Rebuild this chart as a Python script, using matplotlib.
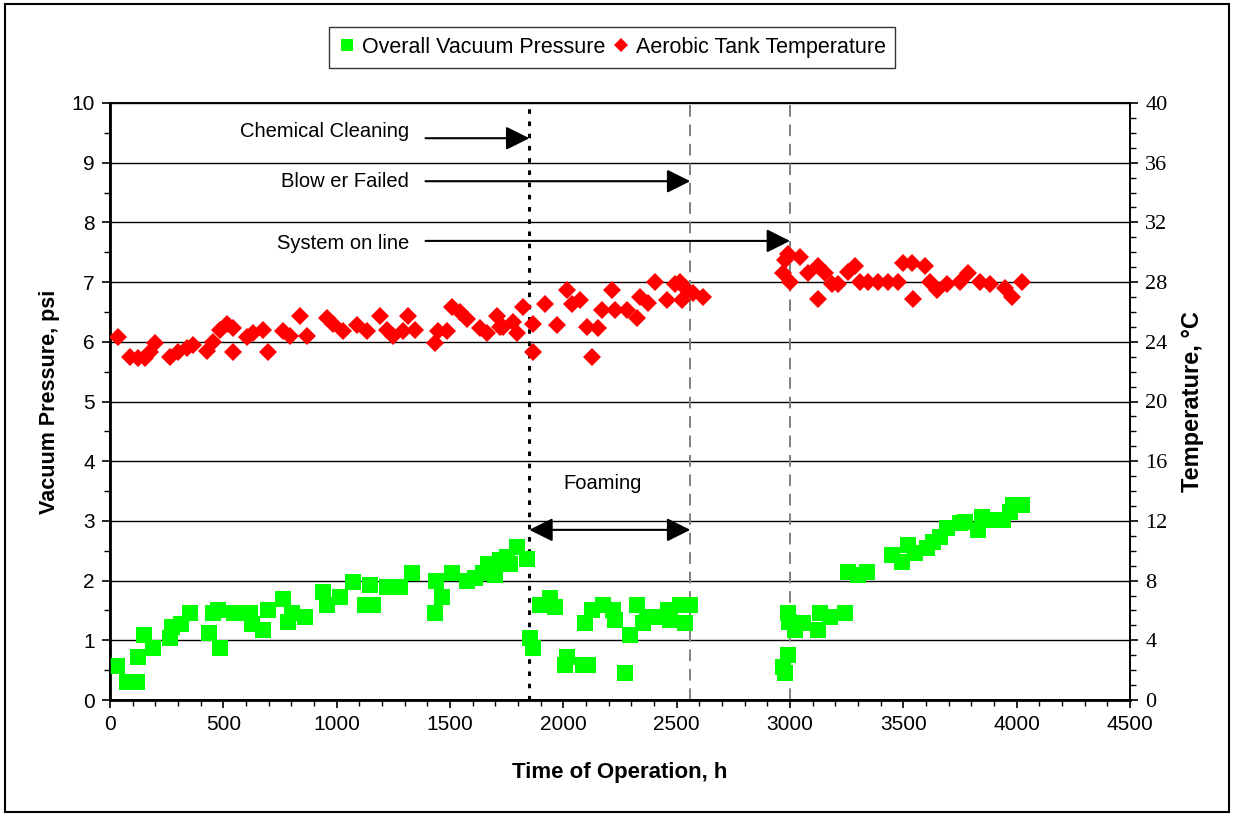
import matplotlib as mpl
mpl.use('agg')
import matplotlib.pyplot as plt
from matplotlib.patches import Rectangle
from matplotlib.ticker import MultipleLocator

plt.rcParams['font.family'] = ['Liberation Sans', 'DejaVu Sans']

# vacuum pressure (psi) vs time (h)
vac_h = [30, 75, 120, 124, 150, 190, 265, 272, 315, 355, 435, 455, 478, 485, 545,
         618, 625, 675, 697, 765, 785, 805, 860, 940, 957, 1015, 1072, 1125, 1147,
         1160, 1222, 1280, 1332, 1434, 1440, 1465, 1509, 1575, 1610, 1646, 1668,
         1700, 1720, 1751, 1765, 1795, 1839, 1853, 1866, 1897, 1941, 1963, 2007,
         2016, 2087, 2096, 2109, 2126, 2175, 2219, 2228, 2272, 2294, 2325, 2352,
         2369, 2413, 2462, 2471, 2515, 2537, 2559, 2970, 2978, 2991, 2991, 2995,
         3022, 3058, 3124, 3133, 3177, 3243, 3256, 3300, 3340, 3450, 3494, 3521,
         3552, 3605, 3631, 3662, 3692, 3750, 3772, 3829, 3847, 3891, 3940, 3971,
         3984, 4023]
vac_psi = [0.57, 0.3, 0.3, 0.72, 1.09, 0.87, 1.04, 1.23, 1.28, 1.45, 1.12, 1.45,
           1.5, 0.87, 1.45, 1.45, 1.28, 1.17, 1.5, 1.7, 1.3, 1.45, 1.39, 1.81,
           1.59, 1.73, 1.98, 1.59, 1.93, 1.59, 1.89, 1.89, 2.12, 1.45, 2.0, 1.73,
           2.12, 2.0, 2.05, 2.12, 2.28, 2.1, 2.35, 2.4, 2.28, 2.57, 2.37, 1.04,
           0.87, 1.59, 1.71, 1.56, 0.59, 0.72, 0.59, 1.29, 0.59, 1.51, 1.59, 1.51,
           1.34, 0.45, 1.09, 1.59, 1.29, 1.39, 1.39, 1.51, 1.34, 1.59, 1.29, 1.59,
           0.55, 0.45, 0.75, 1.45, 1.3, 1.17, 1.29, 1.17, 1.45, 1.39, 1.45, 2.14,
           2.09, 2.14, 2.43, 2.31, 2.6, 2.46, 2.55, 2.65, 2.73, 2.88, 2.96, 2.98,
           2.85, 3.07, 3.02, 3.02, 3.15, 3.27, 3.27]

# aerobic tank temperature (C) vs time (h)
temp_h = [36, 88, 124, 154, 176, 199, 265, 300, 340, 366, 428, 455, 485, 516, 543,
          543, 604, 631, 675, 697, 763, 794, 838, 869, 957, 984, 1028, 1090, 1134,
          1191, 1222, 1249, 1293, 1315, 1346, 1434, 1447, 1487, 1509, 1544, 1575,
          1632, 1663, 1707, 1721, 1734, 1778, 1795, 1822, 1866, 1866, 1919, 1972,
          2016, 2038, 2074, 2104, 2126, 2153, 2171, 2215, 2228, 2281, 2325, 2338,
          2374, 2404, 2457, 2493, 2515, 2524, 2546, 2572, 2616, 2970, 2978, 2991,
          3000, 3044, 3080, 3124, 3124, 3155, 3186, 3212, 3256, 3287, 3309, 3344,
          3389, 3433, 3477, 3499, 3538, 3543, 3596, 3618, 3649, 3692, 3750, 3785,
          3838, 3882, 3949, 3980, 4023]
temp_c = [24.3, 23.0, 22.9, 22.9, 23.3, 23.9, 23.0, 23.3, 23.6, 23.8, 23.4, 24.0,
          24.8, 25.2, 24.9, 23.3, 24.3, 24.6, 24.8, 23.3, 24.7, 24.4, 25.7, 24.4,
          25.6, 25.2, 24.7, 25.1, 24.7, 25.7, 24.8, 24.4, 24.7, 25.7, 24.8, 23.9,
          24.7, 24.7, 26.3, 26.0, 25.5, 24.9, 24.6, 25.7, 25.0, 25.0, 25.3, 24.6,
          26.3, 23.3, 25.2, 26.5, 25.1, 27.5, 26.5, 26.8, 25.0, 23.0, 24.9, 26.1,
          27.5, 26.1, 26.1, 25.6, 27.0, 26.6, 28.0, 26.8, 27.9, 28.0, 26.8, 27.5,
          27.3, 27.0, 28.6, 29.5, 29.9, 28.0, 29.7, 28.6, 29.1, 26.9, 28.6, 27.9,
          27.9, 28.7, 29.1, 28.0, 28.0, 28.0, 28.0, 28.0, 29.3, 29.3, 26.9, 29.1,
          28.0, 27.5, 27.9, 28.0, 28.6, 28.0, 27.9, 27.6, 27.0, 28.0]

temp_ticks = [0, 4, 8, 12, 16, 20, 24, 28, 32, 36, 40]

events_h = [1850, 2560, 3000]
event_labels = ['Chemical Cleaning', 'Blow er Failed', 'System on line']
event_text_y = [9.52, 8.68, 7.65]
event_arrow_y = [9.41, 8.69, 7.69]
arrow_start_h = 1392
text_end_h = 1320

fig = plt.figure(figsize=(12.33, 8.15), dpi=100)
fig.patches.append(Rectangle((5/1233, 3/815), 1224/1233, 808/815, transform=fig.transFigure,
                             fill=False, edgecolor='black', linewidth=1.5))

ax = fig.add_axes([110/1233, 115/815, 1020/1233, 597/815])
ax2 = ax.twinx()

ax.set_xlim(0, 4500)
ax.set_ylim(0, 10)
ax2.set_ylim(0, 40)
ax.xaxis.set_major_locator(MultipleLocator(500))
ax.xaxis.set_minor_locator(MultipleLocator(100))
ax.yaxis.set_major_locator(MultipleLocator(1))
ax.yaxis.set_minor_locator(MultipleLocator(0.5))
ax2.set_yticks(temp_ticks)
ax2.set_yticklabels([str(t) for t in temp_ticks], fontfamily='Liberation Serif', fontsize=16)
ax2.yaxis.set_minor_locator(MultipleLocator(1))

ax.grid(axis='y', which='major', color='black', linewidth=1)
ax.set_axisbelow(True)

for a in (ax, ax2):
    for s in a.spines.values():
        s.set_linewidth(1.2)
ax.spines['left'].set_linewidth(2)
ax.spines['bottom'].set_linewidth(2)

ax.tick_params(which='major', direction='out', length=6, width=1.2, labelsize=15, pad=5)
ax.tick_params(which='minor', direction='out', length=4, width=1)
ax2.tick_params(which='major', direction='out', length=6, width=1.2, pad=5)
ax2.tick_params(which='minor', direction='out', length=4, width=1)

# event lines
ax.axvline(events_h[0], color='black', linestyle=(0, (1.5, 2.5)), linewidth=2.2, zorder=1)
for xv in events_h[1:]:
    ax.axvline(xv, color='#808080', linestyle=(0, (6, 4)), linewidth=1.4, zorder=1)

ax.plot(vac_h, vac_psi, linestyle='none', marker='s', markersize=11, color='#00ff00',
        markeredgewidth=0, label='Overall Vacuum Pressure', zorder=3)
ax2.plot(temp_h, temp_c, linestyle='none', marker='D', markersize=9.5, color='#ff0000',
         markeredgewidth=0, label='Aerobic Tank Temperature', zorder=3)

for lab, ty, ay, xv in zip(event_labels, event_text_y, event_arrow_y, events_h):
    ax.text(text_end_h, ty, lab, ha='right', va='center', fontsize=14.5)
    ax.annotate('', xy=(xv, ay), xytext=(arrow_start_h, ay),
                arrowprops=dict(arrowstyle='-|>,head_length=0.9,head_width=0.45',
                                mutation_scale=16, color='black', lw=1.5,
                                shrinkA=0, shrinkB=0))

ax.annotate('', xy=(events_h[1], 2.85), xytext=(events_h[0], 2.85),
            arrowprops=dict(arrowstyle='<|-|>,head_length=0.9,head_width=0.45',
                            mutation_scale=16, color='black', lw=1.5,
                            shrinkA=0, shrinkB=0))
ax.text(2175, 3.63, 'Foaming', ha='center', va='center', fontsize=14.5)

ax.set_xlabel('Time of Operation, h', fontsize=16, fontweight='bold', labelpad=20)
ax.set_ylabel('Vacuum Pressure, psi', fontsize=15.5, fontweight='bold', labelpad=8)
ax2.set_ylabel('Temperature, °C', fontsize=17, fontweight='bold', labelpad=10)

h1, l1 = ax.get_legend_handles_labels()
h2, l2 = ax2.get_legend_handles_labels()
leg = fig.legend(h1 + h2, l1 + l2, loc='center', bbox_to_anchor=(612/1233, 1 - 47.5/815),
                 ncol=2, fontsize=15.5, frameon=True, fancybox=False, edgecolor='black',
                 handlelength=0.8, handletextpad=0.3, columnspacing=0.3,
                 borderpad=0.45, markerscale=0.75)
leg.get_frame().set_linewidth(1)

plt.savefig('out.png', dpi=100)
